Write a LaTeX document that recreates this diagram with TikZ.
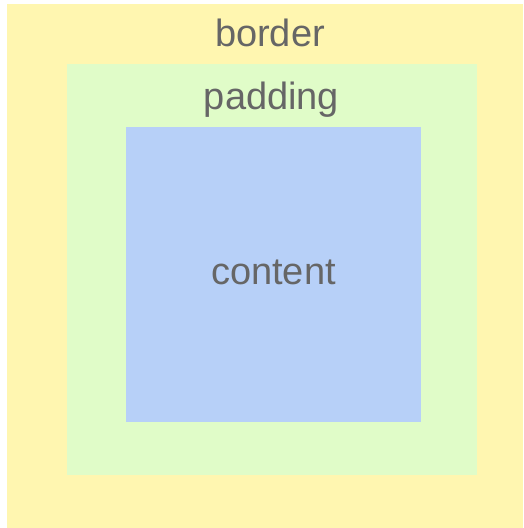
\documentclass[tikz,border=0pt]{standalone}
\usepackage{fontspec}
\setmainfont{Liberation Sans}
\usepackage{tikz}
\usetikzlibrary{positioning}
\definecolor{borderyellow}{RGB}{255,246,176}
\definecolor{paddinggreen}{RGB}{224,252,200}
\definecolor{contentblue}{RGB}{183,208,248}
\definecolor{labelgray}{RGB}{102,102,102}
\tikzset{
    %Define style for boxes
    layer/.style={
           rectangle,
           draw=none,
           inner sep=0pt,
           outer sep=0pt},
    %Define style for labels
    lbl/.style={
           anchor=base,
           inner sep=0pt,
           text=labelgray,
           font=\fontsize{38}{45}\selectfont}
}
\begin{document}
\begin{tikzpicture}[x=1pt,y=1pt]
\useasboundingbox (0,0) rectangle (523,528);
\node[layer, fill=borderyellow, minimum width=516pt, minimum height=524pt] (border) at (265,262) {};
\node[layer, fill=paddinggreen, minimum width=410pt, minimum height=411pt] (padding) at (272,258.5) {};
\node[layer, fill=contentblue, minimum width=295pt, minimum height=295pt] (content) at (273.5,253.5) {};
\node[lbl] (borderlbl) at (270,481) {border};
\node[lbl] (paddinglbl) at (271.5,418) {padding};
\node[lbl] (contentlbl) at (273.5,243) {content};
\end{tikzpicture}
\end{document}
